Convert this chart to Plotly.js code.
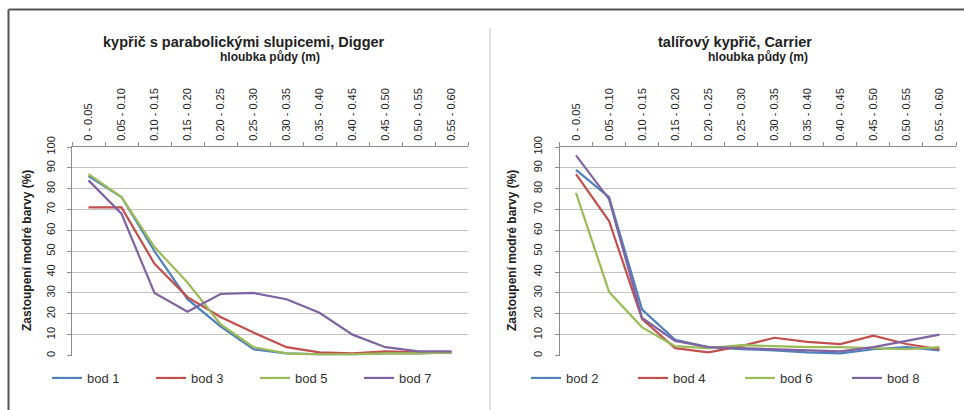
<!DOCTYPE html>
<html><head><meta charset="utf-8">
<script src="https://cdn.plot.ly/plotly-3.0.1.min.js"></script>
<style>html,body{margin:0;padding:0;background:#fff}#chart{width:964px;height:410px}</style>
</head><body><div id="chart"></div>
<script>
const depths = ["0 - 0.05","0.05 - 0.10","0.10 - 0.15","0.15 - 0.20","0.20 - 0.25","0.25 - 0.30","0.30 - 0.35","0.35 - 0.40","0.40 - 0.45","0.45 - 0.50","0.50 - 0.55","0.55 - 0.60"];
const yTicks = [0,10,20,30,40,50,60,70,80,90,100];

// Digger (left)
const bod1 = [86, 76, 50, 27, 14, 3, 1, 0.5, 0.5, 1, 1, 1.5];
const bod3 = [71, 71, 44, 28, 18.5, 11, 4, 1.5, 1, 2, 1.5, 1.5];
const bod5 = [87, 76, 52, 35, 15, 4, 1, 0.5, 0.5, 1, 1, 1.5];
const bod7 = [84, 68, 30, 21, 29.5, 30, 27, 20.5, 10, 4, 2, 2];

// Carrier (right)
const bod2 = [89, 76, 22, 7.5, 4, 3, 2.5, 1.5, 1, 3, 4, 2.5];
const bod4 = [87, 64.5, 17.5, 3.5, 1.5, 4.5, 8.5, 6.5, 5.5, 9.5, 5.5, 3];
const bod6 = [78, 30.5, 13.5, 4.5, 3.5, 5, 4.5, 4, 4, 3.5, 3, 4];
const bod8 = [96, 75, 18, 7, 4, 3.5, 3, 2.5, 2, 4, 7, 10];

const titleLeft = "kypřič s parabolickými slupicemi, Digger";
const titleRight = "talířový kypřič, Carrier";
const xTitle = "hloubka půdy (m)";
const yTitle = "Zastoupení modré barvy (%)";

const C = {blue:'#4F81BD', red:'#C0504D', green:'#9BBB59', purple:'#8064A2'};
const FONT = 'Liberation Sans, Arial, sans-serif';
const W = 964, H = 410;

function tr(name, y, color, xa, ya, lg) {
  return {type:'scatter', mode:'lines', name:name, x:depths, y:y, xaxis:xa, yaxis:ya,
    legend:lg, line:{color:color, width:2.2}, hoverinfo:'skip'};
}
const data = [
  tr('bod 1', bod1, C.blue, 'x', 'y', 'legend'),
  tr('bod 3', bod3, C.red, 'x', 'y', 'legend'),
  tr('bod 5', bod5, C.green, 'x', 'y', 'legend'),
  tr('bod 7', bod7, C.purple, 'x', 'y', 'legend'),
  tr('bod 2', bod2, C.blue, 'x2', 'y2', 'legend2'),
  tr('bod 4', bod4, C.red, 'x2', 'y2', 'legend2'),
  tr('bod 6', bod6, C.green, 'x2', 'y2', 'legend2'),
  tr('bod 8', bod8, C.purple, 'x2', 'y2', 'legend2')
];

const yDom = [1 - 355.5/H, 1 - 147/H];
function xax(dom, anchor) {
  return {domain:dom, anchor:anchor, type:'category', side:'top', range:[-0.5, 11.5],
    tickangle:-90, showline:true, linecolor:'#8c8c8c', linewidth:1, ticks:'outside',
    tickson:'boundaries', ticklen:4, tickcolor:'#8c8c8c', showgrid:false, zeroline:false,
    ticklabelstandoff:3,
    tickfont:{family:FONT, size:11, color:'#222'}, fixedrange:true};
}
function yax(anchor) {
  return {domain:yDom, anchor:anchor, range:[0,100], tickvals:yTicks, showgrid:true,
    gridcolor:'#c4c4c4', gridwidth:1, showline:true, linecolor:'#8c8c8c', ticks:'outside',
    ticklen:4, tickcolor:'#8c8c8c', tickangle:-90, zeroline:false, ticklabelstandoff:8,
    tickfont:{family:FONT, size:11, color:'#222'}, fixedrange:true};
}
function ann(text, px, py, size, bold, angle) {
  return {text: bold ? '<b>'+text+'</b>' : text, x:px/W, y:1-py/H, xref:'paper', yref:'paper',
    showarrow:false, xanchor:'center', yanchor:'middle', textangle:angle||0,
    font:{family:FONT, size:size, color:'#222'}};
}
const legendBase = {orientation:'h', yanchor:'middle', y:1-378/H, xanchor:'left',
  font:{family:FONT, size:13, color:'#333'}, bgcolor:'rgba(0,0,0,0)',
  itemwidth:30, tracegroupgap:0};

const layout = {
  width:W, height:H, margin:{l:0,r:0,t:0,b:0}, paper_bgcolor:'#fff', plot_bgcolor:'#fff',
  showlegend:true,
  xaxis: xax([72/W, 468/W], 'y'),
  yaxis: yax('x'),
  xaxis2: xax([559.5/W, 956/W], 'y2'),
  yaxis2: yax('x2'),
  legend: Object.assign({}, legendBase, {x:47/W, entrywidth:59}),
  legend2: Object.assign({}, legendBase, {x:526/W, entrywidth:62}),
  annotations: [
    ann(titleLeft, 244, 42, 14.5, true),
    ann(titleRight, 735, 42, 14.5, true),
    ann(xTitle, 270, 57, 12, true),
    ann(xTitle, 758, 57, 12, true),
    ann(yTitle, 27, 251, 12, true, -90),
    ann(yTitle, 512, 251, 12, true, -90)
  ],
  shapes: [
    {type:'line', xref:'paper', yref:'paper', x0:8.5/W, x1:1.02, y0:1-9.5/H, y1:1-9.5/H, line:{color:'#555', width:2}},
    {type:'line', xref:'paper', yref:'paper', x0:8.5/W, x1:8.5/W, y0:-0.02, y1:1-9.5/H, line:{color:'#555', width:2}},
    {type:'line', xref:'paper', yref:'paper', x0:490/W, x1:490/W, y0:-0.02, y1:1-28/H, line:{color:'#d4d4d4', width:1.5}}
  ]
};
Plotly.newPlot('chart', data, layout, {staticPlot:true, displayModeBar:false});
</script></body></html>
